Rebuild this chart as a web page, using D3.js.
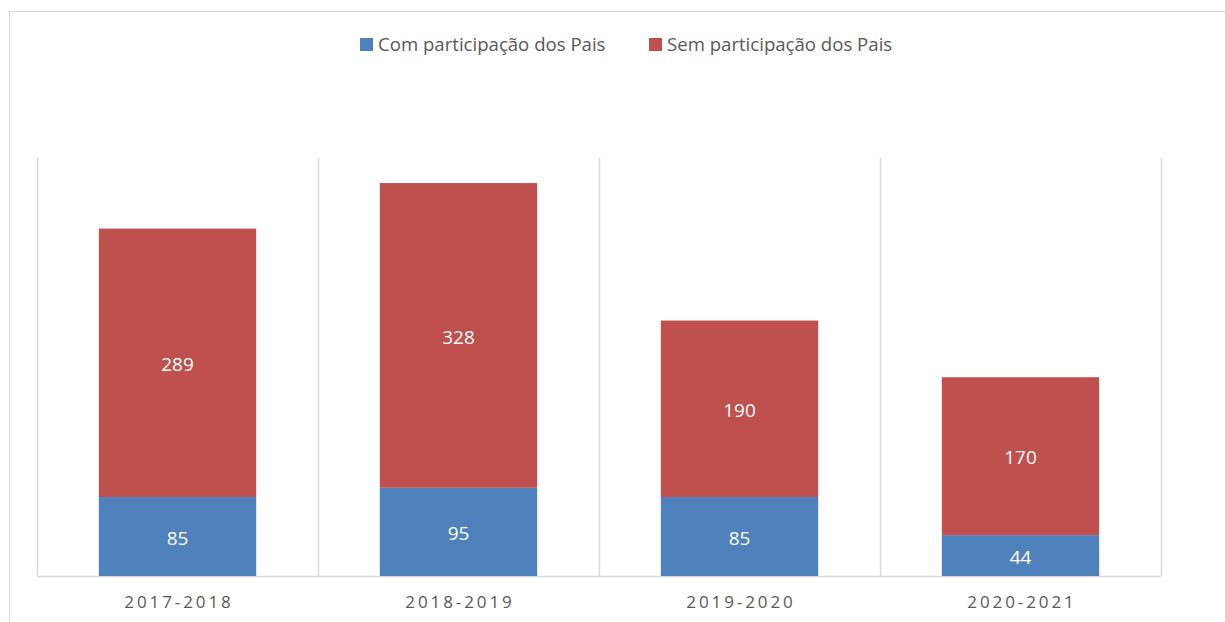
<!DOCTYPE html>
<html>
<head>
<meta charset="utf-8">
<script src="https://cdn.jsdelivr.net/npm/d3@7"></script>
<style>
  body { margin: 0; background: #fff; }
  text { font-family: "Open Sans", "Noto Sans", sans-serif; }
</style>
</head>
<body>
<svg id="chart" width="1225" height="622"></svg>
<script>
const years = ['2017-2018', '2018-2019', '2019-2020', '2020-2021']
const comPais = [85, 95, 85, 44]
const semPais = [289, 328, 190, 170]
const seriesNames = ['Com participação dos Pais', 'Sem participação dos Pais']
const colors = ['#4F81BD', '#C0504D']

const w = 1225, h = 622
const m = { top: 158, right: 64, bottom: 46, left: 37 }

const svg = d3.select('#chart')

// chart frame
svg.append('rect')
  .attr('x', 9.5).attr('y', 11.5)
  .attr('width', 1300).attr('height', 700)
  .attr('fill', 'none').attr('stroke', '#d9d9d9')

const rows = years.map((y, i) => ({ year: y, com: comPais[i], sem: semPais[i] }))
const stack = d3.stack().keys(['com', 'sem'])(rows)

const x = d3.scaleBand().domain(years).range([m.left, w - m.right]).paddingInner(0).paddingOuter(0)
const y = d3.scaleLinear().domain([0, 450]).range([h - m.bottom, m.top])

const g = svg.append('g')

// vertical gridlines at category boundaries
const bounds = years.map(d => x(d)).concat([x(years[years.length - 1]) + x.bandwidth()])
g.selectAll('line.grid').data(bounds).join('line')
  .attr('class', 'grid')
  .attr('x1', d => Math.round(d) + 0.5).attr('x2', d => Math.round(d) + 0.5)
  .attr('y1', y(450)).attr('y2', y(0))
  .attr('stroke', '#d9d9d9').attr('stroke-width', 1.5)

// bottom axis line
g.append('line')
  .attr('x1', m.left).attr('x2', w - m.right)
  .attr('y1', y(0) + 0.5).attr('y2', y(0) + 0.5)
  .attr('stroke', '#d9d9d9').attr('stroke-width', 1.5)

const barW = x.bandwidth() * 0.56

stack.forEach((s, si) => {
  const grp = g.append('g').attr('fill', colors[si])
  grp.selectAll('rect').data(s).join('rect')
    .attr('x', d => x(d.data.year) + (x.bandwidth() - barW) / 2)
    .attr('width', barW)
    .attr('y', d => y(d[1]))
    .attr('height', d => y(d[0]) - y(d[1]))
  g.selectAll('text.lbl' + si).data(s).join('text')
    .attr('class', 'lbl' + si)
    .attr('x', d => x(d.data.year) + x.bandwidth() / 2)
    .attr('y', d => (y(d[0]) + y(d[1])) / 2 + 1.5)
    .attr('dy', '0.35em')
    .attr('text-anchor', 'middle')
    .attr('fill', '#fff')
    .attr('font-size', 19)
    .text(d => d[1] - d[0])
})

// category labels
g.selectAll('text.cat').data(years).join('text')
  .attr('class', 'cat')
  .attr('x', d => x(d) + x.bandwidth() / 2 + 1.5)
  .attr('y', y(0) + 32)
  .attr('text-anchor', 'middle')
  .attr('fill', '#595959')
  .attr('font-size', 17)
  .attr('letter-spacing', 2.9)
  .text(d => d)

// legend
const legendX = [360, 649]
const leg = svg.append('g')
seriesNames.forEach((n, i) => {
  leg.append('rect')
    .attr('x', legendX[i]).attr('y', 38)
    .attr('width', 13).attr('height', 13)
    .attr('fill', colors[i])
  leg.append('text')
    .attr('x', legendX[i] + 18).attr('y', 51)
    .attr('fill', '#595959')
    .attr('font-size', 18.6)
    .text(n)
})
</script>
</body>
</html>
